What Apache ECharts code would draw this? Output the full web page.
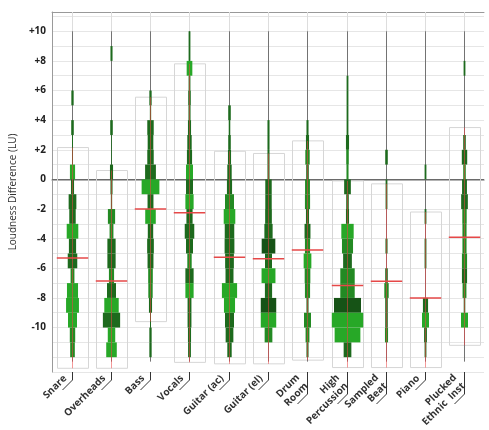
<!DOCTYPE html>
<html>
<head>
<meta charset="utf-8">
<script src="https://cdn.jsdelivr.net/npm/echarts/dist/echarts.min.js"></script>
<style>
  html, body { margin: 0; padding: 0; background: #fff; }
  #chart { width: 489px; height: 430px; }
</style>
</head>
<body>
<div id="chart"></div>
<script>
// categories shown along the x axis
const categories = [
  "Snare", "Overheads", "Bass", "Vocals", "Guitar (ac)", "Guitar (el)",
  "Drum\nRoom", "High\nPercussion", "Sampled\nBeat", "Piano", "Plucked\nEthnic  Inst",
]

// histogram bins are 1 LU tall, listed by their upper edge
const binTops = [10, 9, 8, 7, 6, 5, 4, 3, 2, 1, 0, -1, -2, -3, -4, -5, -6, -7, -8, -9, -10, -11]

// relative counts per bin, one array per category
const snare       = [0, 0, 0, 0, 0.9, 0, 1, 0.4, 0.4, 2, 1.2, 3, 2.5, 4.5, 2.8, 3.7, 1.5, 4.3, 5, 3.5, 2.1, 1.8]
const overheads   = [0, 0.8, 0, 0, 0, 0, 1, 0.3, 0.3, 1.2, 0.8, 0.5, 2.8, 1.5, 3.2, 3.2, 2, 3.5, 5.6, 6.7, 2.9, 4.1]
const bass        = [0, 0, 0, 0, 0.9, 0.5, 2.5, 2.2, 2.5, 4.2, 6.9, 2.3, 4.1, 2.1, 2.6, 2.3, 1.8, 1.7, 1.2, 0.4, 0.9, 0.9]
const vocals      = [0.7, 0.7, 2.2, 0.7, 1, 0.8, 1.2, 1.7, 2, 2.7, 2.7, 3.2, 2.4, 3.7, 2.7, 1.7, 3.2, 3.2, 1.5, 1.5, 1.2, 1.1]
const guitarAc    = [0, 0, 0, 0, 0, 1, 0.6, 1, 1.2, 1.7, 2, 3.5, 4.5, 3.7, 3.8, 3.4, 3.1, 5.9, 4.3, 3.5, 3, 1.7]
const guitarEl    = [0, 0, 0, 0, 0, 0, 0.8, 0.8, 0.8, 0.8, 2.5, 2.5, 2.6, 3.2, 5.3, 2.7, 5.4, 2.8, 6, 6, 3, 0]
const drumRoom    = [0, 0, 0, 0, 0, 0, 0.8, 1.2, 1.7, 1, 1.9, 2, 1.2, 2.3, 2, 3, 2.2, 2, 0.8, 2.7, 1.5, 0.8]
const highPerc    = [0, 0, 0, 0.7, 0.7, 0.7, 0.7, 1.2, 1, 0.8, 2.6, 1, 1.2, 4.8, 4.3, 3.4, 5.6, 5.6, 10.5, 12.2, 10, 3]
const sampledBeat = [0, 0, 0, 0, 0, 0, 0, 0, 1, 0, 0.7, 0.7, 0, 0, 0.8, 0, 1, 1.7, 1, 1, 1.2, 0]
const piano       = [0, 0, 0, 0, 0, 0, 0, 0, 0, 0.7, 0, 0, 0.7, 0, 0.7, 0.7, 0, 0, 2, 2.7, 1.1, 0.7]
const plucked     = [0, 0, 0.7, 0, 0, 0, 0, 1, 2.1, 1, 1.9, 2.6, 1.7, 1.6, 1.6, 2, 2, 1.5, 0.6, 2.7, 0, 0]
const binCounts = [snare, overheads, bass, vocals, guitarAc, guitarEl, drumRoom, highPerc, sampledBeat, piano, plucked]

// shade of each bin (X darkest, D dark, M mid, L light)
const binShades = [
  "----D-DDDLDDDLDDMLLLMM",
  "-D----DDDDDDMMDDMDLDLL",
  "----DDDDDDLDLDDDMMDDDD",
  "DDLDDDDDDLDLDDDMDLDDDD",
  "-----DDDDDDMLDDDDLLDDD",
  "------DDDDDDDDXDLDXLM-",
  "------DDMDMMDDMLMMDMMD",
  "---DDDDDMMDDDLMDMMXLLD",
  "--------D-DD--D-DMDDM-",
  "---------D--D-DD--DLDD",
  "--D----DDMDDMMMMDMDL--",
]

// box range and mean per category (LU)
const boxTop    = [2.15, 0.6, 5.55, 7.8, 1.9, 1.75, 2.6, -0.1, -0.3, -2.2, 3.5]
const boxBottom = [-12.75, -12.75, -9.6, -12.35, -12.45, -12.45, -12.2, -12.7, -12.7, -12.7, -11.2]
const means     = [-5.3, -6.85, -2.0, -2.25, -5.25, -5.36, -4.77, -7.16, -6.87, -8.0, -3.9]

const whiskerTop = 10
const whiskerBottom = -12.3
const yMin = -13
const yMax = 11.3

const shadeColors = { X: "#165316", D: "#1d6a1d", M: "#238a23", L: "#27a827" }
const font = "'Open Sans', sans-serif"

const chart = echarts.init(document.getElementById("chart"))

function renderItem(params, api) {
  const i = api.value(0)
  const band = api.size([1, 0])[0]
  const cx = Math.round(api.coord([i, 0])[0]) + 0.5
  const y = (v) => api.coord([i, v])[1]
  const half = band * 0.4
  const unit = (band * 0.8) / 12.2
  const children = []

  if (i === 0) {
    const cs = params.coordSys
    const y0 = Math.round(y(0)) + 0.5
    children.push({
      type: "line",
      shape: { x1: cs.x, y1: y0, x2: cs.x + cs.width, y2: y0 },
      style: { stroke: "#6a6a6a", lineWidth: 1 },
    })
  }

  // light center line above the whisker
  children.push({
    type: "line",
    shape: { x1: cx, y1: y(yMax), x2: cx, y2: y(whiskerTop) },
    style: { stroke: "#dddddd", lineWidth: 1 },
  })

  // range box
  const bx = Math.round(cx - half) + 0.5
  children.push({
    type: "rect",
    shape: { x: bx, y: y(boxTop[i]), width: Math.round(half * 2), height: y(boxBottom[i]) - y(boxTop[i]) },
    style: { fill: null, stroke: "#d6d6d6", lineWidth: 1 },
  })

  // whisker
  children.push({
    type: "line",
    shape: { x1: cx, y1: y(whiskerTop), x2: cx, y2: y(whiskerBottom) },
    style: { stroke: "#737373", lineWidth: 1 },
  })

  // histogram bins
  binCounts[i].forEach((c, j) => {
    if (!c) return
    const w = c * unit
    const top = y(binTops[j])
    children.push({
      type: "rect",
      shape: { x: cx - w / 2, y: top, width: w, height: y(binTops[j] - 1) - top },
      style: { fill: shadeColors[binShades[i][j]] || shadeColors.D },
    })
  })

  // red line inside the box
  children.push({
    type: "line",
    shape: { x1: cx, y1: y(boxTop[i]), x2: cx, y2: y(boxBottom[i]) },
    style: { stroke: "rgba(236,70,70,0.55)", lineWidth: 1 },
  })

  // mean
  const ym = y(means[i])
  children.push({
    type: "line",
    shape: { x1: cx - half, y1: ym, x2: cx + half, y2: ym },
    style: { stroke: "#e64848", lineWidth: 1.5 },
  })

  // label connector and rotated label
  const axisY = y(yMin)
  const lines = categories[i].split("\n")
  const v = lines.length > 1 ? 22 : 8
  const s = lines.length > 1 ? -6 : 3
  const k = Math.SQRT1_2
  children.push({
    type: "polyline",
    shape: { points: [[cx, axisY], [cx, axisY + v], [cx - 10, axisY + v + 10]] },
    style: { stroke: "#333", lineWidth: 1, fill: null },
  })
  const g = 1.5
  children.push({
    type: "text",
    x: cx - s * k - g * k,
    y: axisY + v + s * k - g * k,
    rotation: Math.PI / 4,
    style: {
      text: categories[i],
      align: "right",
      verticalAlign: "bottom",
      fontFamily: font,
      fontSize: 10,
      fontWeight: "bold",
      lineHeight: 12,
      fill: "#333",
    },
  })

  return { type: "group", children }
}

const option = {
  animation: false,
  grid: { left: 36, right: 5, top: 12, bottom: 58 },
  xAxis: [
    {
      type: "category",
      data: categories,
      axisLine: { lineStyle: { color: "#9a9a9a", width: 1.5 } },
      axisTick: { show: false },
      axisLabel: { show: false },
      splitLine: { show: false },
    },
    {
      type: "category",
      position: "top",
      data: categories,
      axisLine: { lineStyle: { color: "#999", width: 1 } },
      axisTick: { show: false },
      axisLabel: { show: false },
    },
  ],
  yAxis: {
    type: "value",
    min: yMin,
    max: yMax,
    interval: 1,
    name: "Loudness Difference (LU)",
    nameLocation: "middle",
    nameGap: 27,
    nameTextStyle: { fontFamily: font, fontSize: 10, color: "#333" },
    axisLine: { show: true, lineStyle: { color: "#9a9a9a" } },
    axisTick: { show: false },
    axisLabel: {
      margin: 6,
      fontFamily: font,
      fontSize: 10,
      fontWeight: "bold",
      color: "#222",
      formatter: function (value) {
        if (value % 2 !== 0 || Math.abs(value) > 10) return ""
        return value > 0 ? "+" + value : String(value)
      },
    },
    splitLine: { lineStyle: { color: "#e6e6e6" } },
  },
  series: [
    {
      type: "custom",
      renderItem: renderItem,
      clip: false,
      data: categories.map((c, i) => [i]),
      encode: { x: 0 },
    },
  ],
}

chart.setOption(option)
</script>
</body>
</html>
